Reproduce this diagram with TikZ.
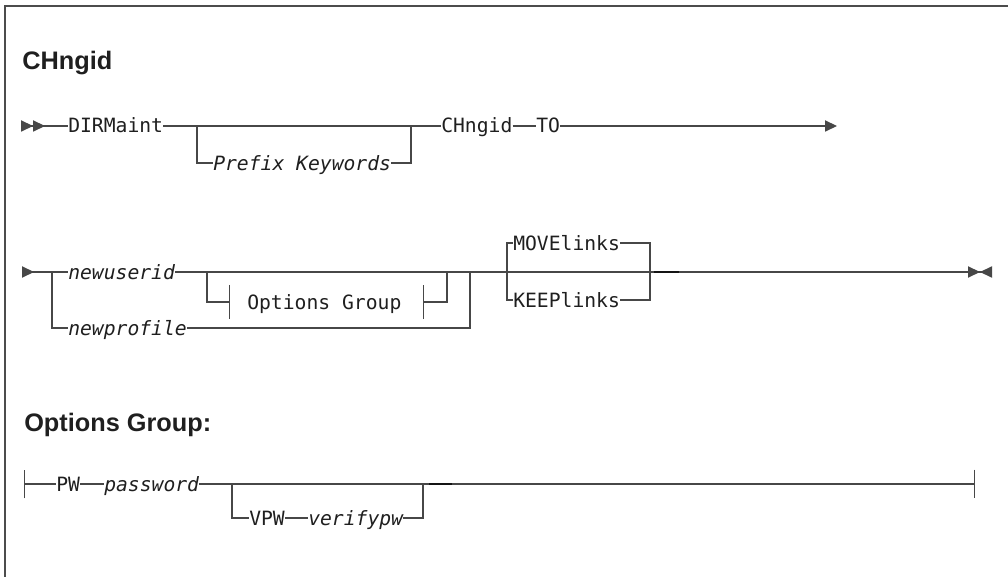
\documentclass[tikz,border=0pt]{standalone}
\usepackage{fontspec}
\setsansfont{Liberation Sans}
\setmonofont{DejaVu Sans Mono}
\usetikzlibrary{arrows.meta,calc}

\begin{document}
\begin{tikzpicture}[
    x=0.025cm, y=-0.025cm,
    title/.style={font=\fontsize{18pt}{20pt}\selectfont\sffamily\bfseries,
        anchor=base west, inner sep=0pt, text=black!88},
    kw/.style={font=\fontsize{14pt}{16pt}\selectfont\ttfamily, anchor=west,
        inner sep=0pt, text height=0.40cm, text depth=0.05cm, text=black!88},
    var/.style={kw, font=\fontsize{14pt}{16pt}\selectfont\ttfamily\itshape},
    rail/.style={line width=0.8pt, draw=black!72},
    darkseg/.style={line width=1.5pt, draw=black!92},
    frame/.style={line width=1.4pt, draw=black!70},
    startmark/.style={{Triangle[reversed,length=0.3cm,width=0.28cm,sep=0pt]Triangle[reversed,length=0.3cm,width=0.28cm,sep=0pt]}-},
    contmark/.style={{Triangle[reversed,length=0.3cm,width=0.28cm,sep=0pt]}-},
    nextmark/.style={-{Triangle[length=0.3cm,width=0.28cm,sep=0pt]}},
    endmark/.style={-{Triangle[length=0.3cm,width=0.28cm,sep=0pt]Triangle[reversed,length=0.3cm,width=0.28cm,sep=0pt]}},
    fragin/.style={{Bar[width=0.72cm]}-},
    fragout/.style={-{Bar[width=0.72cm]}},
    reftick/.style={-{Bar[width=0.85cm]}},
    refback/.style={{Bar[width=0.85cm]}-}
]
\useasboundingbox (0,0) rectangle (1008,577);
\draw[frame] (5,577) -- (5,6) -- (1008,6);

\node[title] (cmdtitle) at (22,70) {CHngid};

% first line
\coordinate (r1start) at (21,126);
\node[kw] (dirmaint) at (68,126) {DIRMaint};
\coordinate (pfx-in) at (197,126);
\node[var] (prefix) at (213,163) {Prefix Keywords};
\coordinate (pfx-out) at (411,126);
\node[kw] (chngid) at (441,126) {CHngid};
\node[kw] (to) at (536,126) {TO};
\coordinate (r1end) at (837,126);

\draw[rail, startmark] (r1start) -- (dirmaint);
\draw[rail] (dirmaint) -- (chngid);
\draw[rail] (pfx-in) |- (prefix);
\draw[rail] (prefix) -| (pfx-out);
\draw[rail] (chngid) -- (to);
\draw[rail, nextmark] (to) -- (r1end);

% second line
\coordinate (r2start) at (22,272);
\coordinate (id-in) at (52,272);
\node[var] (newuserid) at (68,272) {newuserid};
\node[var] (newprofile) at (68,328) {newprofile};
\coordinate (og-in) at (207,272);
\coordinate (og-l) at (230,302);
\node[kw] (optgrp) at (247,302) {Options Group};
\coordinate (og-r) at (423,302);
\coordinate (og-out) at (447,272);
\coordinate (np-out) at (470,272);
\coordinate (mv-in) at (507,272);
\node[kw] (move) at (513,243) {MOVElinks};
\node[kw] (keep) at (513,300) {KEEPlinks};
\coordinate (mv-out) at (650,272);
\coordinate (r2end) at (992,272);

\draw[rail, contmark] (r2start) -- (newuserid);
\draw[rail] (id-in) |- (newprofile);
\draw[rail, endmark] (newuserid) -- (r2end);
\draw[rail, reftick] (og-in) |- (og-l);
\draw[rail, refback] (og-r) -| (og-out);
\draw[rail] (newprofile) -| (np-out);
\draw[rail] (mv-in) |- (move);
\draw[rail] (mv-in) |- (keep);
\draw[rail] (move) -| (mv-out);
\draw[rail] (keep) -| (mv-out);
\draw[darkseg] ($(mv-out)+(4,0)$) -- ++(25,0);

\node[title] (grptitle) at (24,431) {Options Group:};

% fragment
\coordinate (r3start) at (24,484);
\node[kw] (pw) at (56,484) {PW};
\node[var] (password) at (104,484) {password};
\coordinate (vpw-in) at (232,484);
\node[kw] (vpw) at (249,518) {VPW};
\node[var] (verifypw) at (308,518) {verifypw};
\coordinate (vpw-out) at (423,484);
\coordinate (r3end) at (975,484);

\draw[rail, fragin] (r3start) -- (pw);
\draw[rail] (pw) -- (password);
\draw[rail, fragout] (password) -- (r3end);
\draw[rail] (vpw-in) |- (vpw);
\draw[rail] (vpw) -- (verifypw);
\draw[rail] (verifypw) -| (vpw-out);
\draw[darkseg] ($(vpw-out)+(6,0)$) -- ++(23,0);

\end{tikzpicture}
\end{document}
